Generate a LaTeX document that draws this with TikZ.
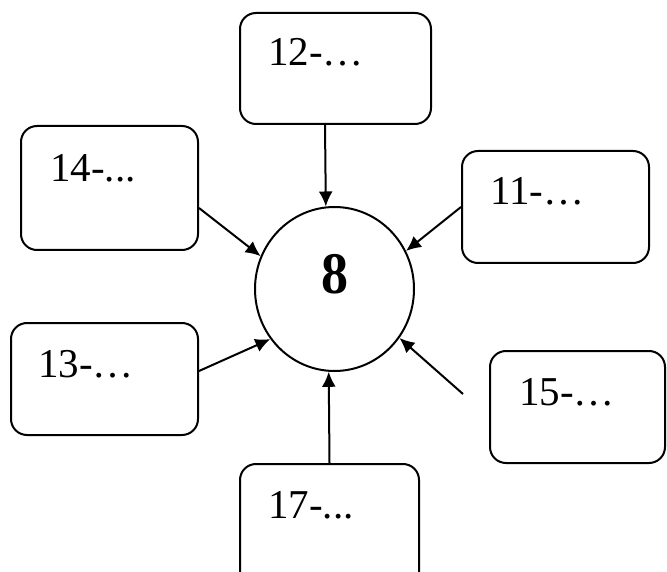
\documentclass[tikz,border=0pt]{standalone}
\usepackage{fontspec}
\usepackage{graphicx}
\setmainfont{Liberation Serif}
\usetikzlibrary{arrows.meta,shapes.geometric}
\begin{document}
\begin{tikzpicture}[x=1pt,y=-1pt,
  box/.style={draw, line width=2pt, rounded corners=16pt, inner sep=0pt},
  lbl/.style={anchor=base west, inner sep=0pt, font=\fontsize{41}{49}\selectfont},
  arr/.style={line width=2pt, -{Latex[length=15pt,width=14pt]}}]
\useasboundingbox (0,0) rectangle (667,572);
\fill[white] (0,0) rectangle (667,572);
\clip (0,0) rectangle (667,572);
% centre
\node[ellipse, draw, line width=2pt, minimum width=159pt, minimum height=164pt, inner sep=0pt] (c) at (334.5,289) {};
\node[inner sep=0pt, font=\fontsize{54}{60}\selectfont\bfseries] (eight) at (334.7,274) {\scalebox{1}[1.09]{8}};
% boxes
\node[box, minimum width=191pt, minimum height=111pt] (b12) at (335.5,68.5) {};
\node[box, minimum width=177pt, minimum height=124pt] (b14) at (109.5,188) {};
\node[box, minimum width=187pt, minimum height=112pt] (b11) at (555.5,207) {};
\node[box, minimum width=187pt, minimum height=112pt] (b13) at (104.5,379) {};
\node[box, minimum width=175pt, minimum height=112pt] (b15) at (577.5,407) {};
\node[box, minimum width=179pt, minimum height=136pt] (b17) at (329.5,532) {};
% labels
\node[lbl] (t12) at (268,66) {12-…};
\node[lbl] (t14) at (50,182) {14-...};
\node[lbl] (t11) at (490,205) {11-…};
\node[lbl] (t13) at (38,377) {13-…};
\node[lbl] (t15) at (519,405) {15-…};
\node[lbl] (t17) at (268,518) {17-...};
% arrows
\coordinate (f15) at (463,394);
\draw[arr] ([xshift=-10.5pt]b12.south) -- (c.96.6);
\draw[arr] ([yshift=-20pt]b14.east) -- (c.156.2);
\draw[arr] (b11.west) -- (c.28.6);
\draw[arr] ([yshift=8pt]b13.east) -- (c.218.4);
\draw[arr] (f15) -- (c.323.6);
\draw[arr] (b17.north) -- (c.266.3);
\end{tikzpicture}
\end{document}
